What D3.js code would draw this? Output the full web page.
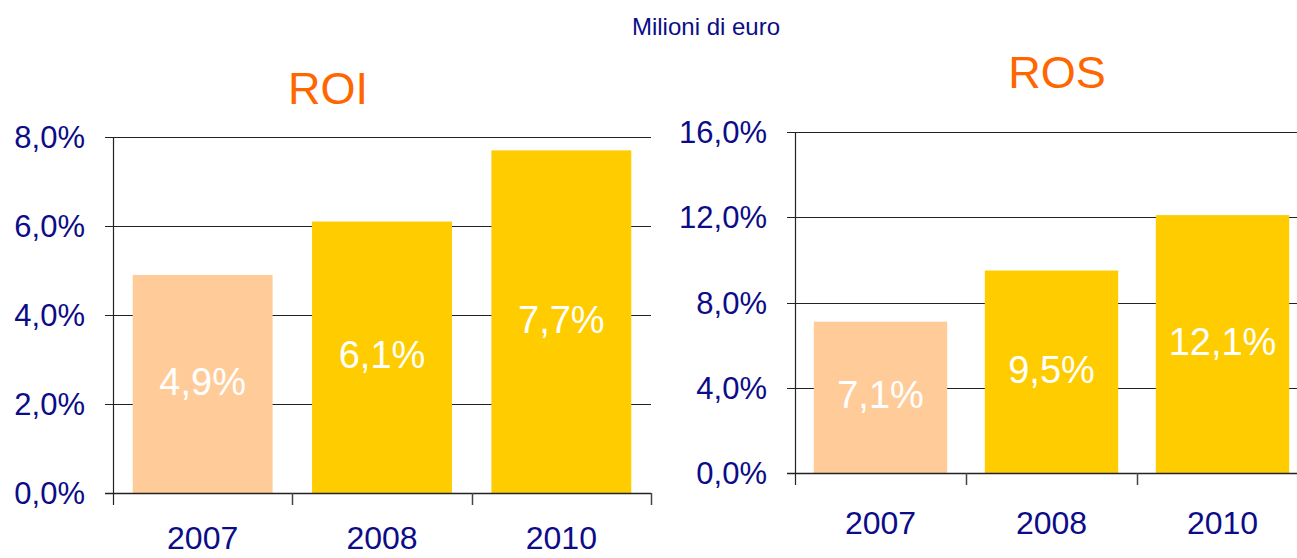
<!DOCTYPE html>
<html>
<head>
<meta charset="utf-8">
<script src="https://cdn.jsdelivr.net/npm/d3@7"></script>
<style>
  body { margin: 0; background: #fff; }
  svg { display: block; font-family: "Liberation Sans", Arial, sans-serif; }
</style>
</head>
<body>
<svg id="chart"></svg>
<script>
const width = 1297;
const height = 558;

// data
const years = ["2007", "2008", "2010"];
const roiValues = [4.9, 6.1, 7.7];
const rosValues = [7.1, 9.5, 12.1];
const roiTicks = [0, 2, 4, 6, 8];
const rosTicks = [0, 4, 8, 12, 16];
const barColors = ["#FFCC99", "#FFCC00", "#FFCC00"];

const navy = "#0c0c88";
const orange = "#FF6600";

const svg = d3.select("#chart")
    .attr("width", width)
    .attr("height", height);

const fmt = v => v.toFixed(1).replace(".", ",") + "%";

svg.append("text")
    .attr("x", 706)
    .attr("y", 35)
    .attr("text-anchor", "middle")
    .attr("fill", navy)
    .attr("font-size", 24)
    .text("Milioni di euro");

function drawPanel(opts) {
    const g = svg.append("g");

    const x = d3.scaleBand()
        .domain(years)
        .range([opts.x0, opts.x1])
        .paddingInner(0.22)
        .paddingOuter(0.11);

    const y = d3.scaleLinear()
        .domain([0, d3.max(opts.ticks)])
        .range([opts.yBase, opts.yTop]);

    // title
    g.append("text")
        .attr("x", opts.titleX)
        .attr("y", opts.titleY)
        .attr("text-anchor", "middle")
        .attr("fill", orange)
        .attr("font-size", 45)
        .text(opts.title);

    // gridlines with the small tick stub left of the axis
    g.selectAll(".grid").data(opts.ticks).join("line")
        .attr("x1", opts.x0 - 8)
        .attr("x2", opts.gridEnd)
        .attr("y1", d => Math.round(y(d)) + 0.5)
        .attr("y2", d => Math.round(y(d)) + 0.5)
        .attr("stroke", "#222")
        .attr("stroke-width", 1.2);

    // y labels
    g.selectAll(".ylab").data(opts.ticks).join("text")
        .attr("x", opts.x0 - 28)
        .attr("y", d => y(d) + 11)
        .attr("text-anchor", "end")
        .attr("fill", navy)
        .attr("font-size", 31)
        .text(fmt);

    // bars
    g.selectAll("rect").data(opts.values).join("rect")
        .attr("x", (d, i) => x(years[i]))
        .attr("y", d => y(d))
        .attr("width", x.bandwidth())
        .attr("height", d => y(0) - y(d))
        .attr("fill", (d, i) => barColors[i]);

    // baseline redrawn over the bars
    g.append("line")
        .attr("x1", opts.x0 - 8)
        .attr("x2", opts.gridEnd)
        .attr("y1", Math.round(y(0)) + 0.5)
        .attr("y2", Math.round(y(0)) + 0.5)
        .attr("stroke", "#222")
        .attr("stroke-width", 1.5);

    // value labels inside bars
    g.selectAll(".vlab").data(opts.values).join("text")
        .attr("x", (d, i) => x(years[i]) + x.bandwidth() / 2)
        .attr("y", d => (y(d) + y(0)) / 2 + 11)
        .attr("text-anchor", "middle")
        .attr("fill", "#fff")
        .attr("font-size", 38)
        .text(fmt);

    // y axis line
    g.append("line")
        .attr("x1", opts.x0 + 0.5)
        .attr("x2", opts.x0 + 0.5)
        .attr("y1", y(d3.max(opts.ticks)))
        .attr("y2", y(0) + 12)
        .attr("stroke", "#222")
        .attr("stroke-width", 1.2);

    // category separators below the baseline
    const step = x.step();
    const bounds = d3.range(1, years.length + 1).map(i => opts.x0 + i * step);
    g.selectAll(".xtick").data(bounds).join("line")
        .attr("x1", d => Math.round(d) + 0.5)
        .attr("x2", d => Math.round(d) + 0.5)
        .attr("y1", y(0))
        .attr("y2", y(0) + 12)
        .attr("stroke", "#444")
        .attr("stroke-width", 1.5);

    // year labels
    g.selectAll(".xlab").data(years).join("text")
        .attr("x", d => x(d) + x.bandwidth() / 2)
        .attr("y", opts.yearY)
        .attr("text-anchor", "middle")
        .attr("fill", navy)
        .attr("font-size", 32)
        .text(d => d);
}

drawPanel({
    title: "ROI", titleX: 328, titleY: 104,
    values: roiValues, ticks: roiTicks,
    x0: 113, x1: 651, gridEnd: 651,
    yTop: 137, yBase: 493, yearY: 549
});

drawPanel({
    title: "ROS", titleX: 1057, titleY: 88,
    values: rosValues, ticks: rosTicks,
    x0: 795, x1: 1308, gridEnd: 1297,
    yTop: 132, yBase: 473, yearY: 534
});
</script>
</body>
</html>
